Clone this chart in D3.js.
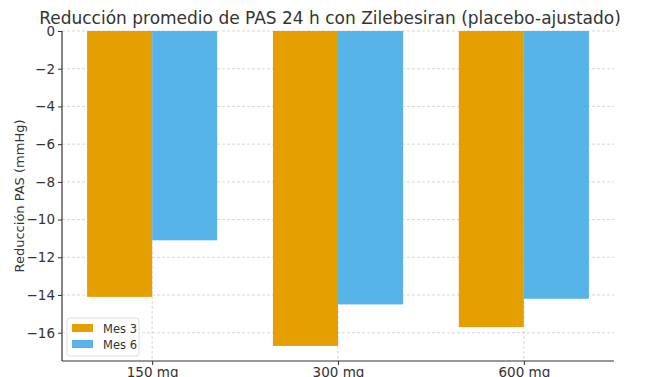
<!DOCTYPE html>
<html lang="es">
<head>
<meta charset="UTF-8">
<title>Reducción PAS</title>
<script src="https://d3js.org/d3.v7.min.js"></script>
<style>
  body { margin: 0; background: #fff; }
  text { font-family: "DejaVu Sans", sans-serif; fill: #333; }
</style>
</head>
<body>
<svg></svg>
<script>
const categories = ["150 mg", "300 mg", "600 mg"];
const seriesNames = ["Mes 3", "Mes 6"];
const mes3 = [-14.1, -16.7, -15.7];
const mes6 = [-11.1, -14.5, -14.2];
const yTicks = [0, -2, -4, -6, -8, -10, -12, -14, -16];
const colors = ["#E69F00", "#56B4E9"];

const width = 647, height = 377;
const margin = {top: 31, right: 33, bottom: 16, left: 62};
const svg = d3.select("svg").attr("width", width).attr("height", height);

const innerW = width - margin.left - margin.right;
const innerH = height - margin.top - margin.bottom;
const g = svg.append("g").attr("transform", `translate(${margin.left},${margin.top})`);

// linear x in category units, like matplotlib
const barW = 0.35;
const x = d3.scaleLinear().domain([-0.485, 2.485]).range([0, innerW]);
const y = d3.scaleLinear().domain([0, -17.5]).range([0, innerH]);

// grid
g.append("g").selectAll("line").data(yTicks).join("line")
    .attr("x1", 0).attr("x2", innerW)
    .attr("y1", d => y(d)).attr("y2", d => y(d))
    .attr("stroke", "#ccc").attr("stroke-width", 0.8).attr("stroke-dasharray", "3,2");
g.append("g").selectAll("line").data(categories).join("line")
    .attr("x1", (d, i) => x(i)).attr("x2", (d, i) => x(i))
    .attr("y1", 0).attr("y2", innerH)
    .attr("stroke", "#ccc").attr("stroke-width", 0.8).attr("stroke-dasharray", "3,2");

// bars
const series = [mes3, mes6];
series.forEach((vals, s) => {
    g.append("g").selectAll("rect").data(vals).join("rect")
        .attr("x", (d, i) => x(i + (s === 0 ? -barW : 0)))
        .attr("width", x(barW) - x(0))
        .attr("y", y(0))
        .attr("height", d => y(d) - y(0))
        .attr("fill", colors[s]);
});

// axes
const yAxis = g.append("g")
    .call(d3.axisLeft(y).tickValues(yTicks).tickSize(4).tickPadding(3));
const xAxis = g.append("g").attr("transform", `translate(0,${innerH})`)
    .call(d3.axisBottom(x).tickValues([0, 1, 2]).tickFormat(i => categories[i]).tickSize(4).tickPadding(2));
[yAxis, xAxis].forEach(a => {
    a.selectAll("text").style("font-size", "13.5px").attr("fill", "#333");
    a.selectAll("line").attr("stroke", "#333");
    a.select(".domain").attr("stroke", "#333").attr("stroke-width", 1.2);
});
yAxis.select(".domain").attr("d", `M0,0V${innerH}`);
xAxis.select(".domain").attr("d", `M0,0H${innerW}`);

// title and axis label
svg.append("text")
    .attr("x", 330).attr("y", 24)
    .attr("text-anchor", "middle").style("font-size", "17px")
    .text("Reducción promedio de PAS 24 h con Zilebesiran (placebo-ajustado)");
svg.append("text")
    .attr("transform", `translate(24,${margin.top + innerH / 2}) rotate(-90)`)
    .attr("text-anchor", "middle").style("font-size", "13px")
    .text("Reducción PAS (mmHg)");

// legend
const leg = g.append("g").attr("transform", `translate(5,${innerH - 43})`);
leg.append("rect").attr("width", 72).attr("height", 38).attr("rx", 3)
    .attr("fill", "#fff").attr("fill-opacity", 0.85).attr("stroke", "#ddd");
seriesNames.forEach((n, i) => {
    leg.append("rect").attr("x", 5).attr("y", 6 + i * 16).attr("width", 21).attr("height", 8)
        .attr("fill", colors[i]);
    leg.append("text").attr("x", 36).attr("y", 14.5 + i * 16)
        .style("font-size", "11.5px").text(n);
});
</script>
</body>
</html>
